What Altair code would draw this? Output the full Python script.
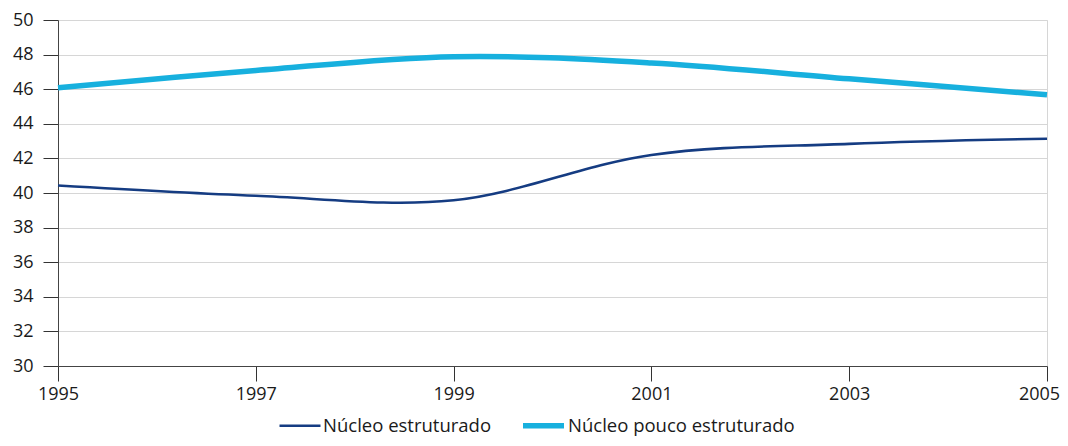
import altair as alt
import pandas as pd

years = [1995, 1997, 1999, 2001, 2003, 2005]
estruturado = [40.43, 39.84, 39.58, 42.20, 42.84, 43.14]
pouco_estruturado = [46.08, 47.08, 47.88, 47.52, 46.60, 45.68]
series_names = ["Núcleo estruturado", "Núcleo pouco estruturado"]
series_colors = ["#153c82", "#17b0de"]
series_widths = [2.6, 5.5]
x_ticks = [1995, 1997, 1999, 2001, 2003, 2005]
y_ticks = [30, 32, 34, 36, 38, 40, 42, 44, 46, 48, 50]

rows = []
for y, a, b in zip(years, estruturado, pouco_estruturado):
    rows.append({"ano": y, "valor": a, "serie": series_names[0]})
    rows.append({"ano": y, "valor": b, "serie": series_names[1]})
df = pd.DataFrame(rows)

FONT = "Open Sans"
FS = 18

legend = alt.Legend(
    title=None, orient="none", legendX=220, legendY=382, direction="horizontal",
    symbolType="stroke", symbolSize=1680, labelFontSize=18.5, labelFont=FONT,
    labelColor="#1a1a1a", columnPadding=20, labelOffset=1, padding=0,
    labelLimit=400,
)

chart = alt.Chart(df).mark_line(interpolate="catmull-rom").encode(
    x=alt.X("ano:Q", scale=alt.Scale(domain=[1995, 2005], nice=False),
            axis=alt.Axis(values=x_ticks, format="d", title=None, grid=False,
                          tickSize=15, labelPadding=4, labelFontSize=FS, labelFont=FONT,
                          labelColor="#1a1a1a", domainColor="#444444", tickColor="#333333",
                          labelFlush=False,
                          labelOffset=alt.ExprRef("datum.value == 2005 ? -8 : 0"))),
    y=alt.Y("valor:Q", scale=alt.Scale(domain=[30, 50], nice=False, zero=False),
            axis=alt.Axis(values=y_ticks, title=None, tickSize=15, labelPadding=10,
                          labelFontSize=FS, labelFont=FONT, labelColor="#1a1a1a",
                          domainColor="#444444", tickColor="#333333",
                          gridColor="#d6d6d6", gridWidth=1)),
    color=alt.Color("serie:N", scale=alt.Scale(domain=series_names, range=series_colors), legend=legend),
    strokeWidth=alt.StrokeWidth("serie:N", scale=alt.Scale(domain=series_names, range=series_widths), legend=legend),
).properties(
    width=989, height=346,
    autosize=alt.AutoSizeParams(type="none"),
    padding={"left": 50, "top": 12, "right": 13, "bottom": 72},
).configure_view(stroke="#d6d6d6")

chart.save("out.html", embed_options={"renderer": "svg", "actions": False})
